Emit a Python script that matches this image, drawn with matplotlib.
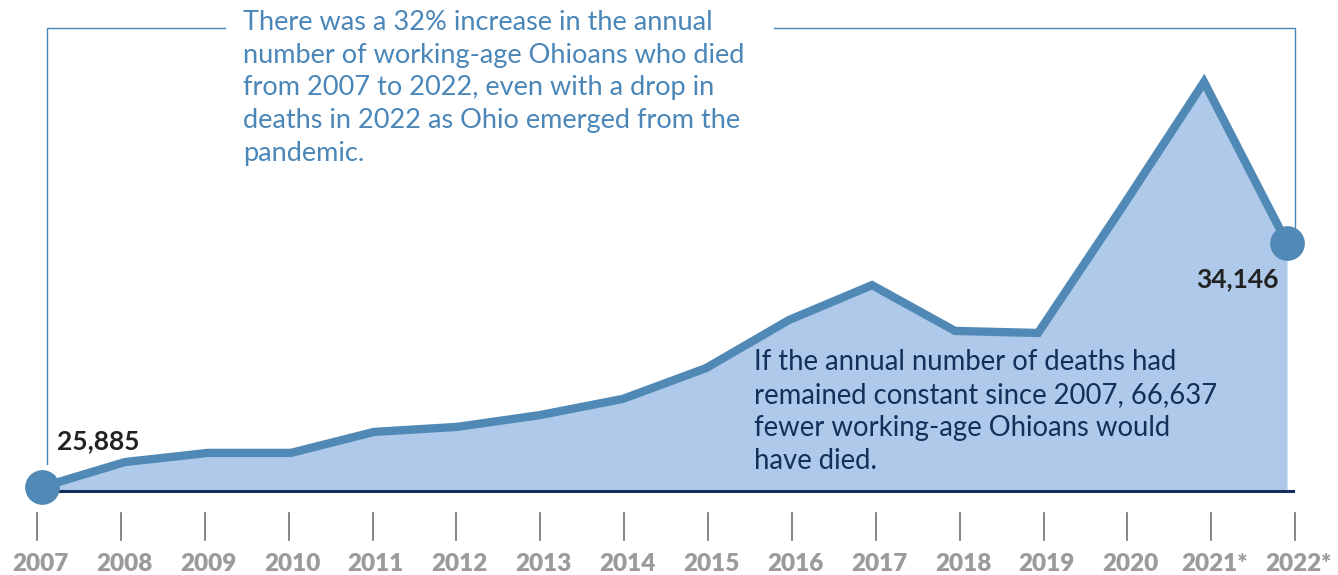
import numpy as np
import matplotlib.pyplot as plt

# annual deaths, working-age Ohioans
years = np.arange(2007, 2023)
deaths = [25885, 26730, 27040, 27040, 27750, 27920, 28320, 28870,
          29910, 31540, 32720, 31170, 31100, 35300, 39600, 34146]
year_labels = ["2007", "2008", "2009", "2010", "2011", "2012", "2013", "2014",
               "2015", "2016", "2017", "2018", "2019", "2020", "2021*", "2022*"]

note_top = ("There was a 32% increase in the annual\n"
            "number of working-age Ohioans who died\n"
            "from 2007 to 2022, even with a drop in\n"
            "deaths in 2022 as Ohio emerged from the\n"
            "pandemic.")
note_bottom = ("If the annual number of deaths had\n"
               "remained constant since 2007, 66,637\n"
               "fewer working-age Ohioans would\n"
               "have died.")

line_col = "#5089b5"
fill_col = "#aec9e9"
navy = "#12305a"
note_col = "#4a86b8"

fig = plt.figure(figsize=(13.38, 5.75), dpi=100)
ax = fig.add_axes([0, 0, 1, 1])
ax.set_xlim(2006.494, 2022.614)
ax.set_ylim(22905, 42375)
ax.axis("off")

base = deaths[0]
ax.fill_between(years, deaths, base - 130, color=fill_col, lw=0, zorder=1)
ax.plot([years[0], years[-1] + 0.07], [base - 130, base - 130], color=navy, lw=2.2, zorder=2)
ax.plot(years, deaths, color=line_col, lw=6, solid_joinstyle="miter",
        solid_capstyle="butt", zorder=3)
ax.plot([years[0], years[-1]], [deaths[0], deaths[-1]], "o", color=line_col,
        ms=25, mec="none", zorder=4)

# tick marks and year labels (tick row is spaced a touch wider than the data)
tick_x = years[0] - 0.06 + (years - years[0]) * 1.0105
for tx, lab in zip(tick_x, year_labels):
    ax.plot([tx, tx], [25000, 24100], color="#707070", lw=1.2)
    ax.text(tx + 0.04, 23030, lab, ha="center", va="baseline", fontsize=17.5,
            fontweight="heavy", color="#9b9b9b", family="Lato")

# value labels at both ends
ax.text(years[0] + 0.18, base + 1150, f"{deaths[0]:,}", ha="left", va="bottom",
        fontsize=19, fontweight="bold", color="#222222", family="Lato")
ax.text(years[-1] - 0.1, deaths[-1] - 820, f"{deaths[-1]:,}", ha="right", va="top",
        fontsize=19, fontweight="bold", color="#222222", family="Lato")

# bracket around the top note
top = 41420
xl = years[0] + 0.06
xr = years[-1] + 0.1
ax.plot([xl, xl, 2009.2], [base + 780, top, top], color=note_col, lw=1)
ax.plot([2015.82, xr, xr], [top, top, deaths[-1] + 500], color=note_col, lw=1)

ax.text(2009.42, 42030, note_top, ha="left", va="top", fontsize=19.5,
        color=note_col, family="Lato", linespacing=1.38)
ax.text(2015.58, 30550, note_bottom, ha="left", va="top", fontsize=19.8,
        color=navy, family="Lato", linespacing=1.33)

fig.savefig("out.png", dpi=100)
